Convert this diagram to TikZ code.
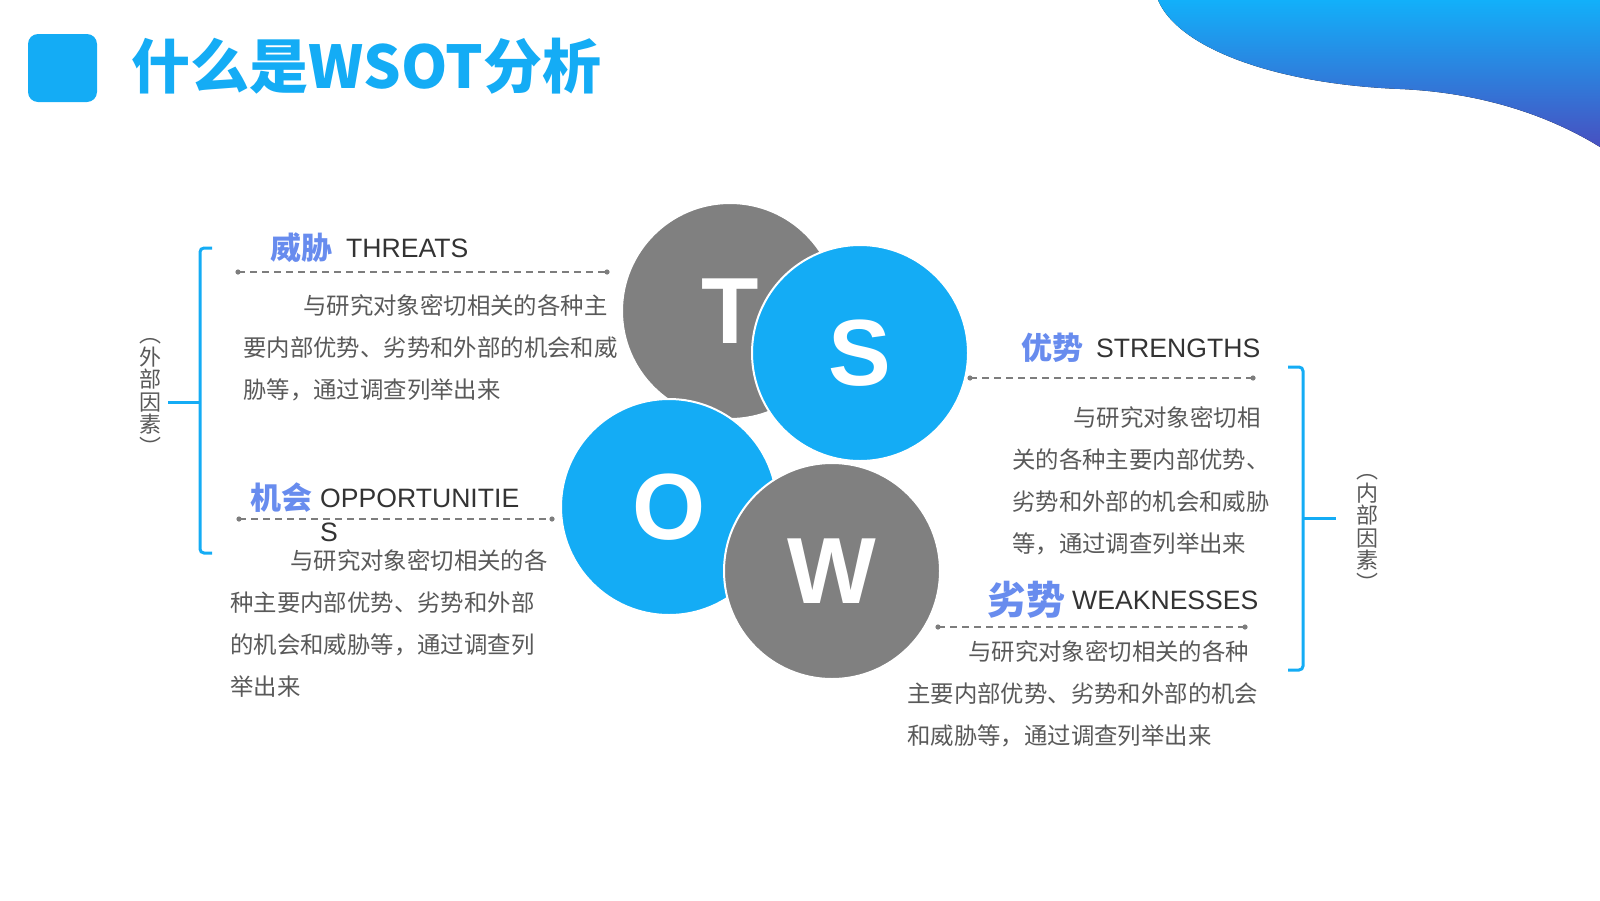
\documentclass[tikz,border=0pt]{standalone}
\usepackage{fontspec}
\newfontfamily\cjk{Noto Sans CJK SC}
\newfontfamily\lat{Liberation Sans}
\definecolor{mainblue}{RGB}{20,172,245}
\definecolor{circgray}{RGB}{128,128,128}
\definecolor{lblue}{RGB}{104,140,238}
\definecolor{bodygray}{RGB}{89,89,89}
\definecolor{headgray}{RGB}{51,51,51}
\definecolor{dashgray}{RGB}{125,125,125}
\definecolor{wavetop}{RGB}{18,176,250}
\definecolor{wavebot}{RGB}{72,80,192}
\begin{document}
\begin{tikzpicture}[x=1pt,y=-1pt,
  ball/.style={circle,minimum size=216pt,inner sep=0,draw=white,line width=2pt,text=white,
    font=\lat\bfseries\fontsize{94}{94}\selectfont},
  cnlabel/.style={anchor=west,inner sep=0,text=lblue,font=\cjk\bfseries\fontsize{31}{31}\selectfont},
  enlabel/.style={anchor=west,inner sep=0,text=headgray,font=\lat\fontsize{26.6}{34}\selectfont},
  body/.style={anchor=north west,inner sep=0,align=left,text=bodygray,font=\cjk\fontsize{23.4}{42}\selectfont},
  sidetext/.style={inner sep=0,align=center,text=bodygray,font=\cjk\fontsize{22}{22.6}\selectfont},
  dashline/.style={draw=dashgray,line width=1.3pt,dash pattern=on 7pt off 5pt},
  enddot/.style={fill=dashgray},
  brack/.style={draw=mainblue,line width=3pt,rounded corners=4pt}]
\useasboundingbox (0,0) rectangle (1600,900);
% top-right wave
\fill[top color=wavetop,bottom color=wavebot] (1158,0) .. controls (1178,48) and (1275,84) .. (1400,89)
  .. controls (1470,92) and (1540,110) .. (1600,147) -- (1600,0) -- cycle;
% title
\fill[mainblue,rounded corners=10pt] (28,34) rectangle (97,102);
\node[anchor=west,inner sep=0,text=mainblue,font=\cjk\bfseries\fontsize{59}{59}\selectfont] (title) at (131,66) {什么是WSOT分析};
% circles
\node[ball,fill=circgray] (T) at (730,311) {T};
\node[ball,fill=mainblue] (S) at (860,353) {S};
\node[ball,fill=mainblue] (O) at (669,507) {O};
\node[ball,fill=circgray] (W) at (832,571) {W};
% threats
\node[cnlabel] (tcn) at (270,248) {威胁};
\node[enlabel] (ten) at (346,248) {THREATS};
\coordinate (t1) at (238,272); \coordinate (t2) at (607,272);
\draw[dashline] (t1) -- (t2);
\fill[enddot] (t1) circle (2.6); \fill[enddot] (t2) circle (2.6);
\node[body] (tbody) at (243,294) {\hspace*{60pt}与研究对象密切相关的各种主\\要内部优势、劣势和外部的机会和威\\胁等，通过调查列举出来};
% opportunities
\node[cnlabel] (ocn) at (250,498) {机会};
\node[enlabel,anchor=north west,align=left] (oen) at (320,489) {OPPORTUNITIE\\S};
\coordinate (o1) at (239,519); \coordinate (o2) at (552,519);
\draw[dashline] (o1) -- (o2);
\fill[enddot] (o1) circle (2.6); \fill[enddot] (o2) circle (2.6);
\node[body] (obody) at (230,549) {\hspace*{60pt}与研究对象密切相关的各\\种主要内部优势、劣势和外部\\的机会和威胁等，通过调查列\\举出来};
% strengths
\node[cnlabel] (scn) at (1021,348) {优势};
\node[enlabel] (sen) at (1096,348) {STRENGTHS};
\coordinate (s1) at (970,378); \coordinate (s2) at (1253,378);
\draw[dashline] (s1) -- (s2);
\fill[enddot] (s1) circle (2.6); \fill[enddot] (s2) circle (2.6);
\node[body] (sbody) at (1012,406) {\hspace*{61pt}与研究对象密切相\\关的各种主要内部优势、\\劣势和外部的机会和威胁\\等，通过调查列举出来};
% weaknesses
\node[cnlabel,font=\cjk\bfseries\fontsize{39}{39}\selectfont] (wcn) at (987,600) {劣势};
\node[enlabel] (wen) at (1072,600) {WEAKNESSES};
\coordinate (w1) at (938,627); \coordinate (w2) at (1245,627);
\draw[dashline] (w1) -- (w2);
\fill[enddot] (w1) circle (2.6); \fill[enddot] (w2) circle (2.6);
\node[body] (wbody) at (907,640) {\hspace*{61pt}与研究对象密切相关的各种\\主要内部优势、劣势和外部的机会\\和威胁等，通过调查列举出来};
% brackets
\draw[brack] (212,248) -- (200,248) -- (200,553) -- (212,553);
\coordinate (lm) at (200,402); \coordinate (lt) at (168,402);
\draw[draw=mainblue,line width=3pt] (lt) -- (lm);
\draw[brack] (1288,367) -- (1303,367) -- (1303,670) -- (1288,670);
\coordinate (rm) at (1303,518); \coordinate (rt) at (1336,518);
\draw[draw=mainblue,line width=3pt] (rm) -- (rt);
% side texts
\node[sidetext] (ext) at (150,397) {︵\\外\\部\\因\\素\\︶};
\node[sidetext] (int) at (1367,533) {︵\\内\\部\\因\\素\\︶};
\end{tikzpicture}
\end{document}
